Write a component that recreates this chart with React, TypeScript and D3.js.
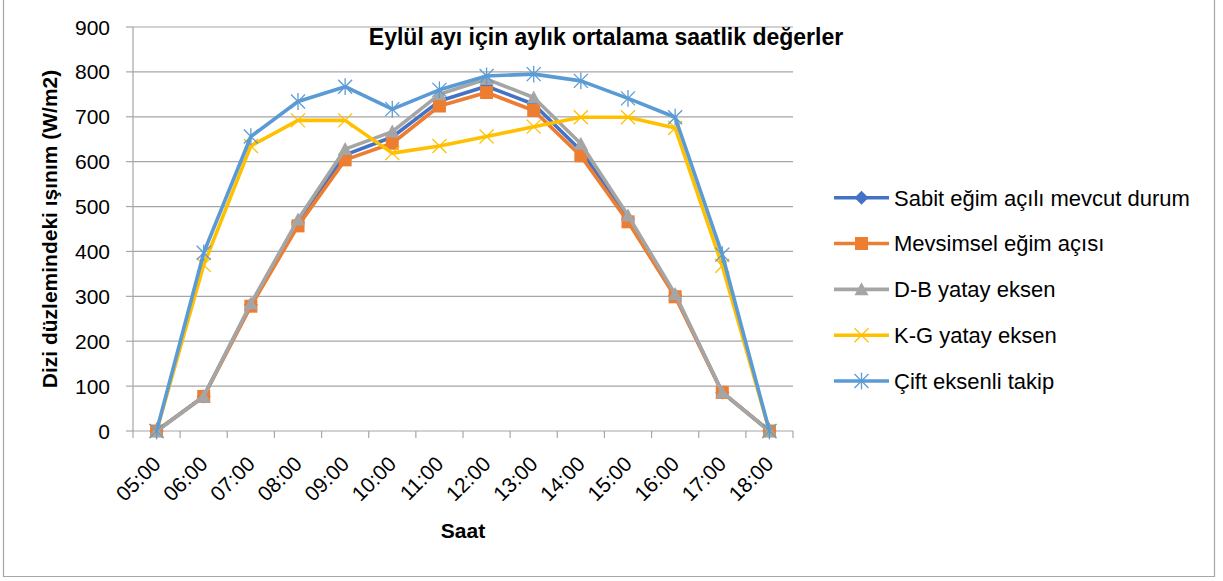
import React from "react";
import * as d3 from "d3";

const hours = ["05:00", "06:00", "07:00", "08:00", "09:00", "10:00", "11:00", "12:00", "13:00", "14:00", "15:00", "16:00", "17:00", "18:00"];
const sabitEgim = [0, 77, 281, 464, 615, 655, 735, 768, 728, 625, 472, 302, 86, 0];
const mevsimsel = [0, 77, 278, 457, 604, 641, 724, 754, 714, 613, 466, 299, 86, 0];
const dbYatay = [0, 77, 284, 471, 628, 667, 750, 784, 743, 640, 480, 305, 86, 0];
const kgYatay = [0, 370, 635, 692, 692, 619, 635, 656, 678, 699, 699, 675, 368, 0];
const ciftEksen = [0, 397, 656, 734, 767, 717, 760, 791, 795, 780, 741, 699, 393, 0];
const yTicks = [0, 100, 200, 300, 400, 500, 600, 700, 800, 900];

const seriesNames = ["Sabit eğim açılı mevcut durum", "Mevsimsel eğim açısı", "D-B yatay eksen", "K-G yatay eksen", "Çift eksenli takip"];
const seriesValues = [sabitEgim, mevsimsel, dbYatay, kgYatay, ciftEksen];
const seriesColors = ["#4472C4", "#ED7D31", "#A5A5A5", "#FFC000", "#5B9BD5"];
const seriesMarkers = ["diamond", "square", "triangle", "x", "star"];

const W = 1223;
const H = 581;
const PL = 133, PR = 793, PT = 27, PB = 431;
const FONT = "'Liberation Sans', Arial, sans-serif";

function Marker({ type, cx, cy, color }: { type: string; cx: number; cy: number; color: string }) {
  if (type === "diamond") {
    const r = 7;
    return <path d={`M${cx},${cy - r}L${cx + r},${cy}L${cx},${cy + r}L${cx - r},${cy}Z`} fill={color} />;
  }
  if (type === "square") {
    const s = 13;
    return <rect x={cx - s / 2} y={cy - s / 2} width={s} height={s} fill={color} />;
  }
  if (type === "triangle") {
    const r = 7;
    return <path d={`M${cx},${cy - r}L${cx + r},${cy + r * 0.85}L${cx - r},${cy + r * 0.85}Z`} fill={color} />;
  }
  if (type === "x") {
    const r = 7;
    return (
      <g stroke={color} strokeWidth={1.3}>
        <line x1={cx - r} y1={cy - r} x2={cx + r} y2={cy + r} />
        <line x1={cx - r} y1={cy + r} x2={cx + r} y2={cy - r} />
      </g>
    );
  }
  const r = 7;
  return (
    <g stroke={color} strokeWidth={1.3}>
      <line x1={cx - r} y1={cy - r} x2={cx + r} y2={cy + r} />
      <line x1={cx - r} y1={cy + r} x2={cx + r} y2={cy - r} />
      <line x1={cx} y1={cy - r * 1.2} x2={cx} y2={cy + r * 1.2} />
    </g>
  );
}

export default function App() {
  const x = d3.scaleBand<string>().domain(hours).range([PL, PR]);
  const y = d3.scaleLinear().domain([0, 900]).range([PB, PT]);
  const cx = (h: string) => (x(h) as number) + x.bandwidth() / 2;
  const line = d3
    .line<number>()
    .x((_, i) => cx(hours[i]))
    .y((d) => y(d));

  const legendY = d3.scalePoint<string>().domain(seriesNames).range([197.7, 381]);

  return (
    <svg width={W} height={H} style={{ position: "absolute", left: 0, top: 0, background: "#fff" }} fontFamily={FONT}>
      <rect x={0} y={0} width={W} height={H} fill="#fff" />
      <path d={`M3.5,0V576.5H1214.5V0`} fill="none" stroke="#a6a6a6" strokeWidth={1.2} />

      {yTicks.map((t) => (
        <line key={"g" + t} x1={PL} x2={PR} y1={y(t)} y2={y(t)} stroke="#a6a6a6" strokeWidth={1.2} />
      ))}
      <line x1={PL} x2={PL} y1={PT} y2={PB} stroke="#a6a6a6" strokeWidth={1.2} />
      {yTicks.map((t) => (
        <g key={"yt" + t}>
          <line x1={PL - 7} x2={PL} y1={y(t)} y2={y(t)} stroke="#a6a6a6" strokeWidth={1.2} />
          <text x={110} y={y(t)} dy="0.36em" textAnchor="end" fontSize={21} fill="#000">
            {t}
          </text>
        </g>
      ))}
      {hours.map((h) => (
        <line key={"xt" + h} x1={x(h) as number} x2={x(h) as number} y1={PB} y2={PB + 7} stroke="#a6a6a6" strokeWidth={1.2} />
      ))}
      <line x1={PR} x2={PR} y1={PB} y2={PB + 7} stroke="#a6a6a6" strokeWidth={1.2} />
      {hours.map((h) => (
        <text
          key={"xl" + h}
          transform={`translate(${cx(h)},${PB + 29}) rotate(-45)`}
          textAnchor="end"
          dy="0.36em"
          fontSize={21}
          fill="#000"
        >
          {h}
        </text>
      ))}

      {seriesValues.map((vals, si) => (
        <g key={"s" + si}>
          <path d={line(vals) as string} fill="none" stroke={seriesColors[si]} strokeWidth={3.6} strokeLinejoin="round" />
          {vals.map((v, i) => (
            <Marker key={i} type={seriesMarkers[si]} cx={cx(hours[i])} cy={y(v)} color={seriesColors[si]} />
          ))}
        </g>
      ))}

      <text x={606} y={37} dy="0.36em" textAnchor="middle" fontSize={23} fontWeight="bold" fill="#000">
        Eylül ayı için aylık ortalama saatlik değerler
      </text>
      <text transform={`translate(57,${(PT + PB) / 2}) rotate(-90)`} textAnchor="middle" fontSize={21} fontWeight="bold" fill="#000">
        Dizi düzlemindeki ışınım (W/m2)
      </text>
      <text x={(PL + PR) / 2} y={538} textAnchor="middle" fontSize={21} fontWeight="bold" fill="#000">
        Saat
      </text>

      {seriesNames.map((n, si) => {
        const ly = legendY(n) as number;
        return (
          <g key={"lg" + si}>
            <line x1={834} x2={889} y1={ly} y2={ly} stroke={seriesColors[si]} strokeWidth={3.6} />
            <Marker type={seriesMarkers[si]} cx={861.5} cy={ly} color={seriesColors[si]} />
            <text x={894} y={ly} dy="0.36em" fontSize={22} fill="#000">
              {n}
            </text>
          </g>
        );
      })}
    </svg>
  );
}
